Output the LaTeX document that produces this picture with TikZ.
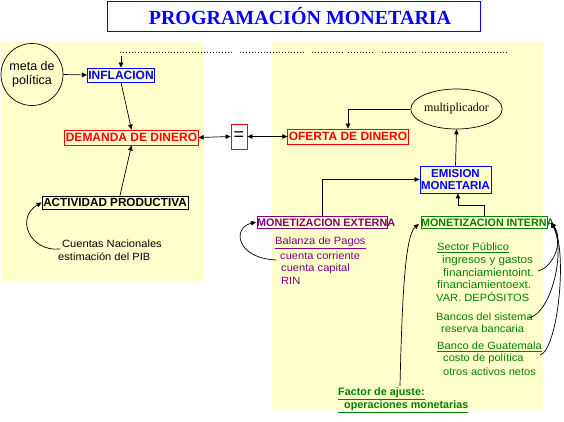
\documentclass[tikz,border=0pt]{standalone}
\usepackage{fontspec}
\setmainfont{Liberation Sans}
\newfontfamily\seriffam{Liberation Serif}
\newfontfamily\widefam[FakeStretch=1.06]{Liberation Sans}
\usetikzlibrary{arrows.meta,shapes.geometric}
\definecolor{panel}{HTML}{FFFFCC}
\definecolor{mblue}{HTML}{0000FF}
\definecolor{mred}{HTML}{FF0000}
\definecolor{mpurple}{HTML}{800080}
\definecolor{mgreen}{HTML}{008000}
\tikzset{
  boxlab/.style={draw, inner sep=1pt, line width=0.8pt, font=\bfseries\fontsize{12.5}{13}\selectfont},
  arr/.style={-{Triangle[length=5pt,width=4.5pt]}, line width=0.7pt, black},
  dblarr/.style={{Triangle[length=5pt,width=4.5pt]}-{Triangle[length=5pt,width=4.5pt]}, line width=0.7pt, black},
  txt/.style={anchor=west, inner sep=0pt, font=\widefam\fontsize{10.5}{11}\selectfont},
  dotline/.style={line width=0.6pt, dash pattern=on 0.8pt off 2.2pt},
}
\begin{document}
\begin{tikzpicture}[x=1pt,y=-1pt]
\useasboundingbox (0,0) rectangle (564,421);
% panels
\fill[panel] (1,42) rectangle (204,281);
\fill[panel] (272,42) rectangle (543,409);
% title
\node[draw=mblue, line width=1pt, minimum width=373pt, minimum height=30pt, inner sep=0pt] (title) at (293.5,16) {};
\node[font=\seriffam\bfseries\fontsize{20}{22}\selectfont, text=mblue, inner sep=0pt] (titletext) at (300,16.5) {PROGRAMACIÓN MONETARIA};
% dotted line
\draw[dotline] (120,52) -- (233,52);
\draw[dotline] (240,52) -- (305,52);
\draw[dotline] (312,52) -- (343,52);
\draw[dotline] (348,52) -- (375,52);
\draw[dotline] (382,52) -- (417,52);
\draw[dotline] (422,52) -- (507,52);
% left side
\node[draw, circle, minimum size=62pt, inner sep=0pt, line width=0.7pt, align=center, font=\fontsize{12.5}{13.5}\selectfont] (meta) at (32,74.5) {meta de\\política};
\node[boxlab, mblue, text=mblue, minimum width=66pt, minimum height=14pt, font=\bfseries\fontsize{12}{13}\selectfont] (infl) at (121,75) {INFLACION};
\node[boxlab, mred, text=mred, minimum width=131pt, minimum height=15pt, font=\bfseries\fontsize{12}{13}\selectfont] (dem) at (131.5,137.5) {DEMANDA DE DINERO};
\node[draw=mred, line width=0.8pt, minimum width=16pt, minimum height=25pt, inner sep=0pt, font=\fontsize{18}{18}\selectfont] (eq) at (239,136.5) {=};
\node[boxlab, black, minimum width=146pt, minimum height=13pt, font=\bfseries\fontsize{11.7}{13}\selectfont] (act) at (115,202.5) {ACTIVIDAD PRODUCTIVA};
\node[txt] (cn) at (62,244) {Cuentas Nacionales};
\node[txt] (pib) at (58,257) {estimación del PIB};
\coordinate (topin) at (121,56);
\coordinate (cnstart) at (60,249);
% right side
\node[boxlab, mred, text=mred, minimum width=120pt, minimum height=15pt, font=\bfseries\fontsize{12}{13}\selectfont] (ofe) at (348,136.5) {OFERTA DE DINERO};
\node[draw, ellipse, line width=0.7pt, minimum width=83pt, minimum height=40pt, inner sep=0pt, font=\seriffam\fontsize{12}{14}\selectfont] (mult) at (456.5,109) {multiplicador};
\node[boxlab, mblue, text=mblue, minimum width=71pt, minimum height=27pt, align=center, font=\bfseries\fontsize{11.5}{12.5}\selectfont] (emi) at (455.5,179.5) {EMISION\\MONETARIA};
\node[draw=mpurple, line width=0.8pt, minimum width=130pt, minimum height=12pt, inner sep=0pt] (mext) at (322,222.5) {};
\node[anchor=west, inner sep=0pt, text=mpurple, font=\bfseries\fontsize{10.8}{12}\selectfont] (mexttext) at ([xshift=0.3pt]mext.west) {MONETIZACION EXTERNA};
\node[draw=mgreen, line width=0.8pt, minimum width=126pt, minimum height=12pt, inner sep=0pt] (mint) at (484,222.5) {};
\node[anchor=west, inner sep=0pt, text=mgreen, font=\bfseries\fontsize{10.7}{12}\selectfont] (minttext) at ([xshift=0.3pt]mint.west) {MONETIZACION INTERNA};
% purple list
\node[txt, text=mpurple] (bp) at (275,243) {\underline{Balanza de Pagos}};
\node[txt, text=mpurple] (cc) at (280,256) {cuenta corriente};
\node[txt, text=mpurple] (ck) at (281,268.5) {cuenta capital};
\node[txt, text=mpurple] (rin) at (281,280.5) {RIN};
% green list
\node[txt, text=mgreen] (sp) at (437,248) {\underline{Sector Público}};
\node[txt, text=mgreen, font=\widefam\fontsize{11}{12}\selectfont] (ig) at (442,261) {ingresos y gastos};
\node[txt, text=mgreen, font=\widefam\fontsize{11}{12}\selectfont] (fi) at (443,273) {financiamientoint.};
\node[txt, text=mgreen, font=\widefam\fontsize{11}{12}\selectfont] (fe) at (437,285) {financiamientoext.};
\node[txt, text=mgreen] (vd) at (436,297) {VAR. DEPÓSITOS};
\node[txt, text=mgreen] (bs) at (436,317) {Bancos del sistema};
\node[txt, text=mgreen] (rb) at (441,329) {reserva bancaria};
\node[txt, text=mgreen] (bg) at (437,347) {\underline{Banco de Guatemala}};
\node[txt, text=mgreen] (cp) at (443,359) {costo de política};
\node[txt, text=mgreen] (oa) at (443,372) {otros activos netos};
\node[txt, text=mgreen, font=\bfseries\fontsize{10.8}{11}\selectfont] (fa) at (338,394) {\underline{Factor de ajuste:}};
\node[txt, text=mgreen, font=\bfseries\fontsize{10.8}{11}\selectfont] (om) at (338,407) {\underline{\ \ operaciones monetarias}};
\coordinate (fatop) at (400,386);
\coordinate (mintend) at (551,222.5);
\coordinate (mintin) at (419,224);
\coordinate (extin) at (256,222);
\coordinate (ccstart) at (276,260);
\coordinate (c1) at (538,271);
\coordinate (c2) at (529,318);
\coordinate (c3) at (540,355);
% connectors left
\draw[arr] (meta.east) -- (infl.west);
\draw[arr] (topin) -- (infl.north);
\draw[arr] (infl.south) -- (dem.north);
\draw[arr] ([xshift=5pt]act.north) -- (dem.south);
\draw[arr] (cnstart) .. controls (30,252) and (15,218) .. (act.west);
\draw[dblarr] (dem.east) -- (eq.west);
\draw[dblarr] (eq.east) -- (ofe.west);
% connectors right
\draw[arr] (mult.west) -| (ofe.north);
\draw[arr] (emi.north) -- (mult.south);
\draw[arr] (mext.north) |- (emi.west);
\draw[arr] (mint.north) -- ++(0,-11) -| ([xshift=2.5pt]emi.south);
\draw[arr] (ccstart) .. controls (236,258) and (232,228) .. (extin);
\draw[arr] (fatop) .. controls (402,300) and (405,235) .. (mintin);
\draw[arr] (c1) .. controls (556,266) and (563,238) .. (mintend);
\draw[arr] (c2) .. controls (552,312) and (566,250) .. (mintend);
\draw[arr] (c3) .. controls (558,350) and (568,250) .. (mintend);
\end{tikzpicture}
\end{document}
